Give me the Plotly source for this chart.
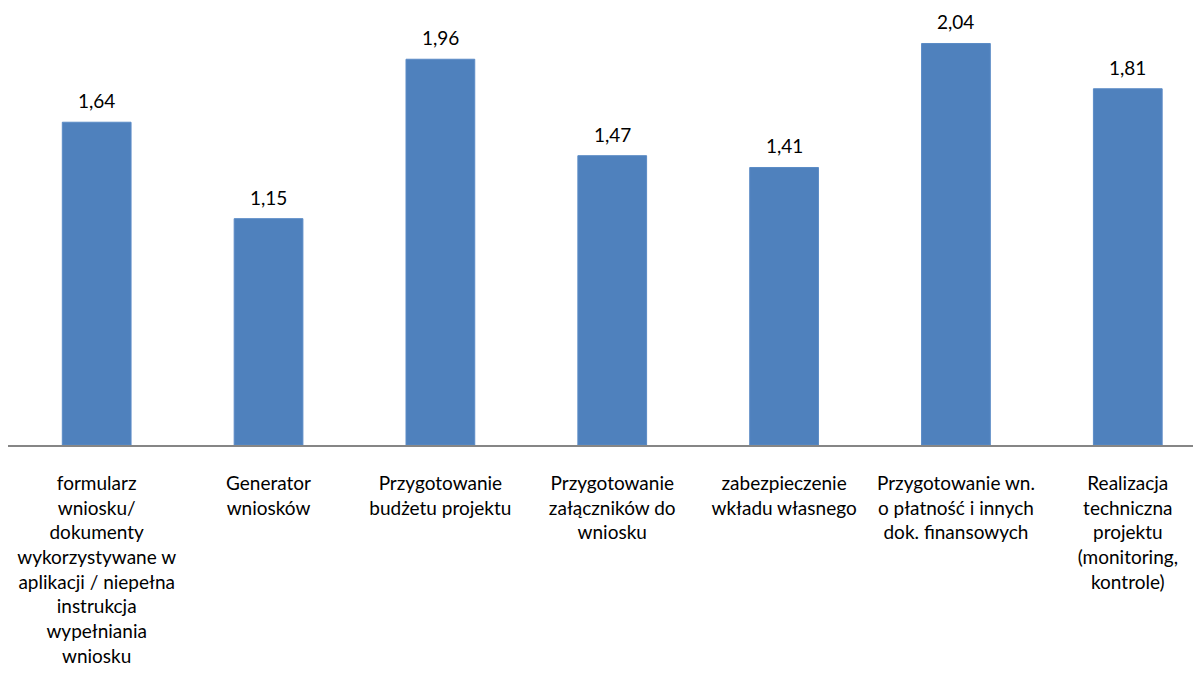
import plotly.graph_objects as go

categories = [
    "formularz<br>wniosku/<br>dokumenty<br>wykorzystywane w<br>aplikacji / niepełna<br>instrukcja<br>wypełniania<br>wniosku",
    "Generator<br>wniosków",
    "Przygotowanie<br>budżetu projektu",
    "Przygotowanie<br>załączników do<br>wniosku",
    "zabezpieczenie<br>wkładu własnego",
    "Przygotowanie wn.<br>o płatność i innych<br>dok. finansowych",
    "Realizacja<br>techniczna<br>projektu<br>(monitoring,<br>kontrole)",
]
values = [1.64, 1.15, 1.96, 1.47, 1.41, 2.04, 1.81]
positions = list(range(len(values)))

FONT = "Lato"
FS = 19
fig = go.Figure()
fig.add_trace(go.Bar(
    x=positions, y=values, width=0.40,
    marker=dict(color="#4F81BD", line=dict(color="#5B8BC6", width=1)),
    hoverinfo="skip",
))
for xv, yv in zip(positions, values):
    fig.add_annotation(x=xv, y=yv, text=f"{yv:.2f}".replace(".", ","),
                       showarrow=False, yanchor="bottom", yshift=8,
                       font=dict(family=FONT, size=FS, color="#000000"))

fig.update_layout(
    width=1193, height=667,
    margin=dict(l=0, r=0, t=4, b=230),
    paper_bgcolor="white", plot_bgcolor="white",
    showlegend=False,
    font=dict(family=FONT, size=FS, color="#000000"),
)
fig.update_xaxes(
    range=[-0.516, 6.426], tickmode="array", tickvals=positions, ticktext=categories,
    showline=True, linecolor="#868686", linewidth=2, showgrid=False, zeroline=False,
    ticks="", ticklabelstandoff=20, tickfont=dict(family=FONT, size=FS, color="#000000"),
    automargin=False,
)
fig.update_yaxes(range=[0, 2.2], visible=False, showgrid=False, zeroline=False)

fig.write_html("out.html")
